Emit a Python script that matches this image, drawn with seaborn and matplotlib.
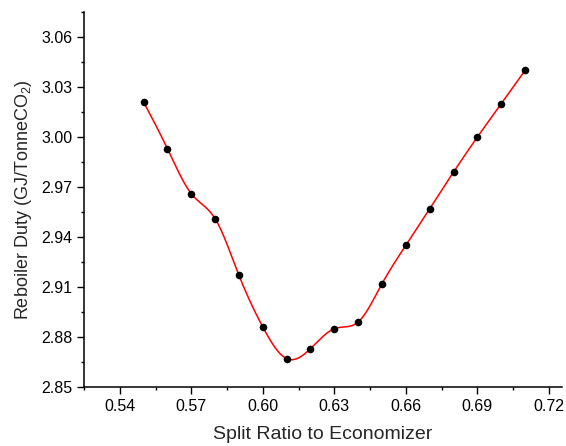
import numpy as np
import pandas as pd
import seaborn as sns
import matplotlib
matplotlib.use("Agg")
import matplotlib.pyplot as plt
from matplotlib.ticker import MultipleLocator, FormatStrFormatter

# Data
split_ratio = [0.55, 0.56, 0.57, 0.58, 0.59, 0.60, 0.61, 0.62, 0.63,
               0.64, 0.65, 0.66, 0.67, 0.68, 0.69, 0.70, 0.71]
reboiler_duty = [3.021, 2.993, 2.966, 2.951, 2.917, 2.886, 2.867, 2.873, 2.885,
                 2.889, 2.912, 2.935, 2.957, 2.979, 3.000, 3.020, 3.040]


def natural_spline(x, y, n=400):
    # natural cubic spline through the points, for the smooth connecting line
    x = np.asarray(x, float)
    y = np.asarray(y, float)
    k = len(x)
    h = np.diff(x)
    A = np.zeros((k, k))
    b = np.zeros(k)
    A[0, 0] = A[-1, -1] = 1
    for i in range(1, k - 1):
        A[i, i - 1] = h[i - 1]
        A[i, i] = 2 * (h[i - 1] + h[i])
        A[i, i + 1] = h[i]
        b[i] = 3 * ((y[i + 1] - y[i]) / h[i] - (y[i] - y[i - 1]) / h[i - 1])
    c = np.linalg.solve(A, b)
    xs = np.linspace(x[0], x[-1], n)
    idx = np.clip(np.searchsorted(x, xs) - 1, 0, k - 2)
    dx = xs - x[idx]
    bb = (y[idx + 1] - y[idx]) / h[idx] - h[idx] * (2 * c[idx] + c[idx + 1]) / 3
    dd = (c[idx + 1] - c[idx]) / (3 * h[idx])
    ys = y[idx] + bb * dx + c[idx] * dx ** 2 + dd * dx ** 3
    return xs, ys


df = pd.DataFrame({"ratio": split_ratio, "duty": reboiler_duty})
sx, sy = natural_spline(split_ratio, reboiler_duty)
curve = pd.DataFrame({"ratio": sx, "duty": sy})

sns.set_style("ticks")
plt.rcParams["font.family"] = ["Liberation Sans", "DejaVu Sans"]
plt.rcParams["mathtext.fontset"] = "custom"
plt.rcParams["mathtext.rm"] = "Liberation Sans"
plt.rcParams["mathtext.it"] = "Liberation Sans:italic"

fig = plt.figure(figsize=(5.66, 4.46), dpi=100)
ax = fig.add_axes([0.1484, 0.1323, 0.8446, 0.8407])

sns.lineplot(data=curve, x="ratio", y="duty", color="red", linewidth=1.1, ax=ax)
sns.scatterplot(data=df, x="ratio", y="duty", color="black", s=30,
                edgecolor="black", linewidth=0, zorder=3, ax=ax)

ax.set_xlim(0.525, 0.7255)
ax.set_ylim(2.85, 3.075)
ax.xaxis.set_major_locator(MultipleLocator(0.03))
ax.xaxis.set_minor_locator(MultipleLocator(0.015))
ax.yaxis.set_major_locator(MultipleLocator(0.03))
ax.yaxis.set_minor_locator(MultipleLocator(0.015))
ax.xaxis.set_major_formatter(FormatStrFormatter("%.2f"))
ax.yaxis.set_major_formatter(FormatStrFormatter("%.2f"))

ax.tick_params(which="major", direction="out", length=5, width=1, labelsize=11.5,
               color="black", labelcolor="black")
ax.tick_params(which="minor", direction="out", length=2.5, width=1, color="black")

for side in ["top", "right"]:
    ax.spines[side].set_visible(False)
for side in ["left", "bottom"]:
    ax.spines[side].set_linewidth(1.1)
    ax.spines[side].set_color("black")

ax.set_xlabel("Split Ratio to Economizer", fontsize=14, labelpad=9)
ax.set_ylabel("Reboiler Duty (GJ/TonneCO$_2$)", fontsize=13, labelpad=5)

fig.savefig("out.png", dpi=100)
